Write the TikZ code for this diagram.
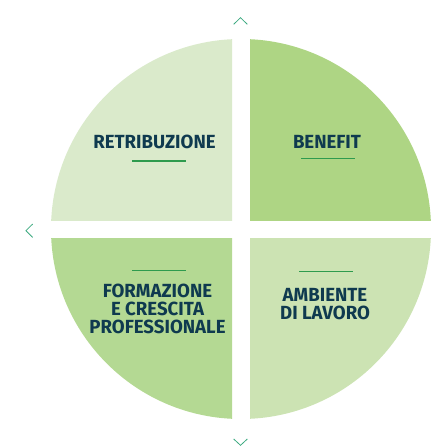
\documentclass[tikz,border=0pt]{standalone}
\usepackage{fontspec}
\newfontfamily\quadfont{Fira Sans}[UprightFont=*-Bold, FakeStretch=0.98]
\usepackage{tikz}
\usetikzlibrary{positioning}
\definecolor{pieTL}{HTML}{DAEACB}
\definecolor{pieTR}{HTML}{AED584}
\definecolor{pieBL}{HTML}{B4D993}
\definecolor{pieBR}{HTML}{CCE3B3}
\definecolor{labelnavy}{HTML}{0F3A4F}
\definecolor{rulegreen}{HTML}{2E9B4E}
\definecolor{chevgreen}{HTML}{3DAA80}
\tikzset{
  quadlabel/.style={font=\quadfont\fontsize{19}{18}\selectfont, text=labelnavy, inner sep=0pt, align=center},
  labelrule/.style={draw=rulegreen, line width=1.4pt},
  chevron/.style={draw=chevgreen, line width=0.8pt}
}

\begin{document}
\begin{tikzpicture}[x=1pt, y=-1pt]
    \useasboundingbox (0,0) rectangle (432,446);

    % --- Quadrants of the circle ---
    \begin{scope}
      \clip (0,0) rectangle (232,220);
      \fill[pieTL] (241,229) circle[radius=190pt];
    \end{scope}
    \begin{scope}
      \clip (250,0) rectangle (432,220);
      \fill[pieTR] (241,229) circle[radius=190pt];
    \end{scope}
    \begin{scope}
      \clip (0,238) rectangle (232,446);
      \fill[pieBL] (241,229) circle[radius=190pt];
    \end{scope}
    \begin{scope}
      \clip (250,238) rectangle (432,446);
      \fill[pieBR] (241,229) circle[radius=190pt];
    \end{scope}

    % --- Labels ---
    \node[quadlabel] (retribuzione) at (154.5,142.2) {RETRIBUZIONE};
    \node[quadlabel] (benefit) at (327,142.2) {BENEFIT};
    \node[quadlabel] (formazione) at (157.5,309.2) {FORMAZIONE\\E CRESCITA\\PROFESSIONALE};
    \node[quadlabel] (ambiente) at (325,303.8) {AMBIENTE\\DI LAVORO};

    % --- Short rules under/over the labels ---
    \draw[labelrule] (132,161) -- (186,161);
    \draw[labelrule] (301,158.3) -- (355,158.3);
    \draw[labelrule] (132,270.3) -- (186,270.3);
    \draw[labelrule] (299,271.7) -- (353,271.7);

    % --- Chevrons ---
    \draw[chevron] (233.7,24.3) -- (240.5,17.7) -- (247.3,24.3);
    \draw[chevron] (32.7,224) -- (25.9,230.7) -- (32.7,237.4);
    \draw[chevron] (233.7,439) -- (240.5,445.3) -- (247.3,439);

\end{tikzpicture}
\end{document}
